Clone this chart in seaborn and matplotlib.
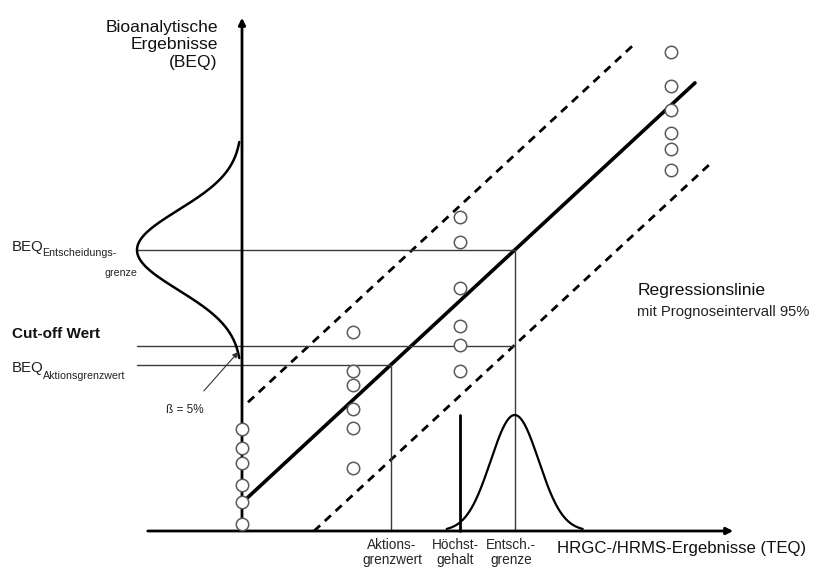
import numpy as np
import pandas as pd
import matplotlib
matplotlib.use("Agg")
import matplotlib.pyplot as plt
import seaborn as sns

# schematic units: origin where the two axes cross, x right, y up
col_x = [0, 111, 218, 429]
col0_y = [102, 83, 68, 46, 29, 7]
col1_y = [199, 160, 146, 122, 103, 63]
col2_y = [314, 289, 243, 205, 186, 160]
col3_y = [479, 445, 421, 398, 382, 361]

reg_intercept = 28.2
reg_slope = 0.927
band = 95
reg_x = [3, 453]
upper_x = [6, 393]
lower_x = [72, 471]

beq_entsch = 281
beq_cutoff = 185
beq_aktion = 166
teq_hoechst = 218
hoechst_top = 116

left_peak = 105
left_sigma = 40
bottom_peak = 116
bottom_sigma = 24

x_axis_end = 494
x_axis_start = -97
y_axis_end = 516

pts = pd.DataFrame({
    "x": np.repeat(col_x, 6),
    "y": col0_y + col1_y + col2_y + col3_y,
})

sns.set_theme(style="white")
plt.rcParams['font.family'] = ['Liberation Sans', 'DejaVu Sans']

fig = plt.figure(figsize=(8.29, 5.70), dpi=100)
ax = fig.add_axes([0, 0, 1, 1])
ax.set_xlim(-242, 587)
ax.set_ylim(-39, 531)
ax.axis("off")

# axes with arrows
ax.annotate("", xy=(0, y_axis_end), xytext=(0, 0),
            arrowprops=dict(arrowstyle="-|>", color="black", lw=2, mutation_scale=10))
ax.annotate("", xy=(x_axis_end, 0), xytext=(x_axis_start, 0),
            arrowprops=dict(arrowstyle="-|>", color="black", lw=2, mutation_scale=10))

# regression line + prediction band
def reg(x, off=0):
    return reg_intercept + reg_slope * np.asarray(x, dtype=float) + off

lines = pd.DataFrame({
    "x": reg_x + upper_x + lower_x,
    "y": list(reg(reg_x)) + list(reg(upper_x, band)) + list(reg(lower_x, -band)),
    "kind": ["reg"] * 2 + ["upper"] * 2 + ["lower"] * 2,
})
sns.lineplot(data=lines[lines.kind == "reg"], x="x", y="y", color="black", lw=2.6, ax=ax)
for k in ["upper", "lower"]:
    sns.lineplot(data=lines[lines.kind == k], x="x", y="y", color="black", lw=2,
                 linestyle=(0, (3, 2.3)), ax=ax)

# reference lines
x_entsch = (beq_entsch - reg_intercept) / reg_slope
x_cut = (beq_cutoff + band - reg_intercept) / reg_slope
x_akt = (beq_aktion - reg_intercept) / reg_slope
gc = "#3a3a3a"
ax.plot([-105, x_entsch], [beq_entsch, beq_entsch], color=gc, lw=1)
ax.plot([x_entsch, x_entsch], [0, beq_entsch], color=gc, lw=1)
ax.plot([-105, x_cut], [beq_cutoff, beq_cutoff], color=gc, lw=1)
ax.plot([-105, x_akt], [beq_aktion, beq_aktion], color=gc, lw=1)
ax.plot([x_akt, x_akt], [0, beq_aktion], color=gc, lw=1)
ax.plot([teq_hoechst, teq_hoechst], [0, hoechst_top], color="black", lw=2)

# distributions
yy = np.linspace(beq_entsch - 108, beq_entsch + 108, 200)
ax.plot(-left_peak * np.exp(-(yy - beq_entsch) ** 2 / (2 * left_sigma ** 2)), yy,
        color="black", lw=1.8)
xx = np.linspace(x_entsch - 68, x_entsch + 68, 200)
ax.plot(xx, bottom_peak * np.exp(-(xx - x_entsch) ** 2 / (2 * bottom_sigma ** 2)),
        color="black", lw=1.6)

# data points
sns.scatterplot(data=pts, x="x", y="y", s=80, facecolor="white", edgecolor="#5a5a5a",
                linewidth=1.1, zorder=5, ax=ax)

# beta arrow
ax.annotate("", xy=(-2, 181), xytext=(-40, 138),
            arrowprops=dict(arrowstyle="-|>", color="#333333", lw=0.8, mutation_scale=8))
ax.text(-57, 121, "ß = 5%", fontsize=8.5, ha="center", va="center", color="#222222")

# labels
ax.text(-24, 511, "Bioanalytische\nErgebnisse\n(BEQ)", fontsize=12.6, ha="right", va="top",
        linespacing=1.2, color="#111111")
ax.text(-230, 280, "BEQ", fontsize=10.8, va="baseline", color="#222222")
ax.text(-199.5, 275, "Entscheidungs-", fontsize=7.7, va="baseline", color="#222222")
ax.text(-137, 255, "grenze", fontsize=7.7, va="baseline", color="#222222")
ax.text(-230, 197, "Cut-off Wert", fontsize=11, fontweight="bold", va="center", color="#111111")
ax.text(-230, 159, "BEQ", fontsize=10.8, va="baseline", color="#222222")
ax.text(-199.5, 152, "Aktionsgrenzwert", fontsize=7.7, va="baseline", color="#222222")
ax.text(396, 240, "Regressionslinie", fontsize=12.6, va="center", color="#111111")
ax.text(395, 219, "mit Prognoseintervall 95%", fontsize=10.6, va="center", color="#222222")

ax.text(150, -7, "Aktions-\ngrenzwert", fontsize=9.8, ha="center", va="top", linespacing=1.1)
ax.text(213, -7, "Höchst-\ngehalt", fontsize=9.8, ha="center", va="top", linespacing=1.1)
ax.text(269, -7, "Entsch.-\ngrenze", fontsize=9.8, ha="center", va="top", linespacing=1.1)
ax.text(315, -18, "HRGC-/HRMS-Ergebnisse (TEQ)", fontsize=12.1, va="center", color="#111111")

fig.savefig("out.png", dpi=100)
